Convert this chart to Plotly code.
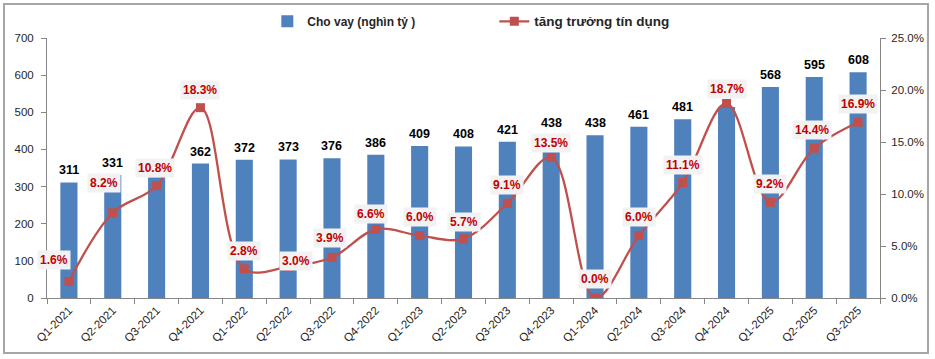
import plotly.graph_objects as go

quarters = ["Q1-2021", "Q2-2021", "Q3-2021", "Q4-2021", "Q1-2022", "Q2-2022", "Q3-2022",
            "Q4-2022", "Q1-2023", "Q2-2023", "Q3-2023", "Q4-2023", "Q1-2024", "Q2-2024",
            "Q3-2024", "Q4-2024", "Q1-2025", "Q2-2025", "Q3-2025"]
cho_vay = [311, 331, 325, 362, 372, 373, 376, 386, 409, 408, 421, 438, 438, 461, 481, 514, 568, 595, 608]
# value labels as shown (two are hidden behind growth labels in the reference)
cho_vay_labels = ["311", "331", "", "362", "372", "373", "376", "386", "409", "408", "421", "438",
                  "438", "461", "481", "", "568", "595", "608"]
tang_truong = [1.6, 8.2, 10.8, 18.3, 2.8, 3.0, 3.9, 6.6, 6.0, 5.7, 9.1, 13.5, 0.0, 6.0, 11.1, 18.7, 9.2, 14.4, 16.9]
left_ticks = [0, 100, 200, 300, 400, 500, 600, 700]
right_ticks = [0, 5, 10, 15, 20, 25]

# label placement offsets (pixels) for the growth labels
lab_dx = [-15, -9, -2, 0, 0, 8, -2, -5, 0, 0, 0, 0, 0, 0, 0, 0, 0, -2, 0]
lab_dy = [21, 30, 18, 18, 18, 6, 19, 15, 19, 17, 18, 15, 19, 19, 18, 15, 18, 18, 18]

BLUE = "#4F81BD"
RED = "#C0504D"
FONT = "Liberation Sans"

fig = go.Figure()
fig.add_trace(go.Bar(
    x=quarters, y=cho_vay, name="Cho vay (nghìn tỷ )",
    marker=dict(color=BLUE, line=dict(width=0)),
))
fig.add_trace(go.Scatter(
    x=quarters, y=tang_truong, name="<span style='font-size:13.5px'>tăng trưởng tín dụng</span>",
    yaxis="y2", mode="lines+markers",
    line=dict(color=RED, width=2.3, shape="spline", smoothing=1.0),
    marker=dict(symbol="square", size=9, color=RED),
))

# bar value labels (drawn first so growth labels sit on top)
for q, v, t in zip(quarters, cho_vay, cho_vay_labels):
    if t:
        fig.add_annotation(
            x=q, y=v, text=f"<b>{t}</b>", showarrow=False, yanchor="bottom", yshift=3,
            font=dict(family=FONT, size=12.5, color="#000000"),
        )

for q, v, dx, dy in zip(quarters, tang_truong, lab_dx, lab_dy):
    fig.add_annotation(
        x=q, y=v, yref="y2", text=f"<b>{v:.1f}%</b>", showarrow=False,
        xshift=dx, yshift=dy, bgcolor="#F2F2F2", borderpad=2,
        font=dict(family=FONT, size=12, color="#C00000"),
    )

# outer chart border
fig.add_shape(type="rect", xref="paper", yref="paper",
              x0=-43 / 833, x1=881 / 833, y0=-55 / 260, y1=294 / 260,
              line=dict(color="#A6A6A6", width=2), fillcolor="rgba(0,0,0,0)", layer="below")

axis_common = dict(showgrid=False, zeroline=False, showline=True, linecolor="#868686", linewidth=1,
                   ticks="outside", ticklen=5, tickcolor="#868686", automargin=False,
                   tickfont=dict(family=FONT, size=11.5, color="#262626"))

fig.update_layout(
    width=935, height=359,
    margin=dict(l=47, r=55, t=38, b=61, autoexpand=False),
    paper_bgcolor="white", plot_bgcolor="white",
    bargap=0.61,
    showlegend=True,
    legend=dict(orientation="h", x=0.537, xanchor="center", y=1.12, yanchor="top",
                font=dict(family=FONT, size=12, color="#262626", weight="bold"),
                entrywidth=182, entrywidthmode="pixels", bgcolor="rgba(0,0,0,0)"),
    xaxis=dict(**axis_common, tickangle=-45, tickson="boundaries", type="category",
               range=[-0.5, len(quarters) - 0.5]),
    yaxis=dict(**axis_common, range=[0, 700], tickvals=left_ticks, ticklabelstandoff=5,
               ticktext=[str(t) for t in left_ticks]),
    yaxis2=dict(**axis_common, overlaying="y", side="right", range=[0, 25], tickvals=right_ticks,
                ticklabelstandoff=3, ticktext=[f"{t:.1f}%" for t in right_ticks]),
)

fig.write_html("out.html", config={"displayModeBar": False},
               post_script="document.body.style.margin='0';document.body.style.overflow='hidden';")
